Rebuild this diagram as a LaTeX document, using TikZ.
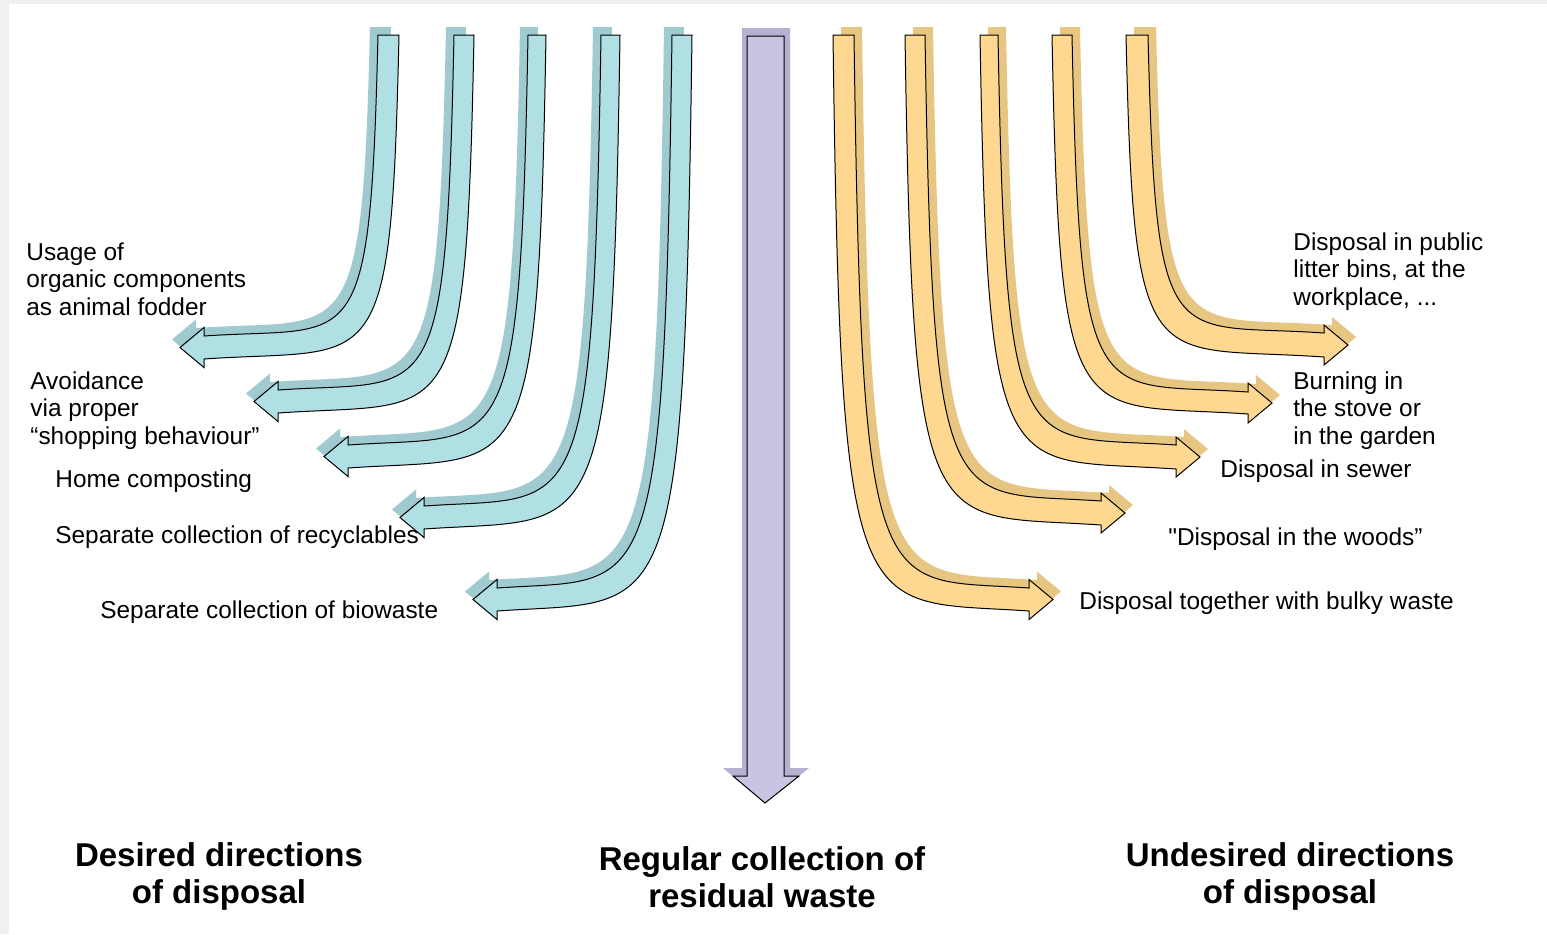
\documentclass[tikz,border=0pt]{standalone}
\usepackage{fontspec}
\setmainfont{Liberation Sans}[Ligatures=TeXOff]
\usepackage{tikz}

\definecolor{pagegray}{RGB}{240,240,240}
\definecolor{bluebody}{RGB}{176,223,228}
\definecolor{blueshade}{RGB}{158,202,208}
\definecolor{yellowbody}{RGB}{254,216,144}
\definecolor{yellowshade}{RGB}{231,198,130}
\definecolor{violetbody}{RGB}{200,196,226}
\definecolor{violetshade}{RGB}{182,177,210}

\begin{document}
\begin{tikzpicture}[x=0.5pt, y=-0.5pt,
  bluearrow/.style={fill=bluebody, draw=black, line width=0.5pt,
    preaction={fill=blueshade, draw=none, transform canvas={shift={(-4pt,4pt)}}}},
  yellowarrow/.style={fill=yellowbody, draw=black, line width=0.5pt,
    preaction={fill=yellowshade, draw=none, transform canvas={shift={(4pt,4pt)}}}},
  sidetext/.style={font=\fontsize{12.2}{13.75}\selectfont, align=left, anchor=north west, inner sep=0pt},
  headtext/.style={font=\bfseries\fontsize{16.5}{18.5}\selectfont, align=center, anchor=north, inner sep=0pt}]

% 背景
\useasboundingbox (0,0) rectangle (1547,934);
\fill[pagegray] (0,0) rectangle (1547,934);
\fill[white] (9,4) rectangle (1547,934);

% 中间的紫色箭头(带阴影)
\fill[violetshade] (742,28) -- (742,768) -- (723,768) -- (765,803) -- (809,768) -- (790,768) -- (790,28) -- cycle;
\draw[fill=violetbody, line width=0.5pt] (747,36) -- (747,776) -- (733,776) -- (765,803) -- (799,776) -- (784,776) -- (784,36) -- cycle;

% 左侧蓝色箭头,向左弯
\draw[bluearrow] (378,35) .. controls (370,366) and (356,325.4) .. (204,336) -- (204,327.5) -- (180,347.5) -- (204,367.5) -- (204,359) .. controls (377,346.9) and (391,389) .. (399,35) -- cycle;
\draw[bluearrow] (454,35) .. controls (446,420) and (432,379.2) .. (278,390) -- (278,381.5) -- (254,401.5) -- (278,421.5) -- (278,413) .. controls (452,400.8) and (466,443) .. (474,35) -- cycle;
\draw[bluearrow] (528,35) .. controls (520,475) and (506,433.9) .. (348,445) -- (348,436.5) -- (324,456.5) -- (348,476.5) -- (348,468) .. controls (524,455.7) and (538,498) .. (546,35) -- cycle;
\draw[bluearrow] (601,35) .. controls (593,536) and (579,495.2) .. (424,506) -- (424,497.5) -- (400,517.5) -- (424,537.5) -- (424,529) .. controls (598,516.8) and (612,559) .. (620,35) -- cycle;
\draw[bluearrow] (672,35) .. controls (664,618) and (650,577.3) .. (497,588) -- (497,579.5) -- (473,599.5) -- (497,619.5) -- (497,611) .. controls (670,598.9) and (684,641) .. (692,35) -- cycle;

% 右侧黄色箭头,向右弯
\draw[yellowarrow] (854,35) .. controls (862,618) and (876,577.3) .. (1029,588) -- (1029,579.5) -- (1053,599.5) -- (1029,619.5) -- (1029,611) .. controls (855,598.8) and (841,641) .. (833,35) -- cycle;
\draw[yellowarrow] (925,35) .. controls (933,531) and (947,490.2) .. (1101,501) -- (1101,493) -- (1125,513) -- (1101,533) -- (1101,525) .. controls (927,512.8) and (913,555) .. (905,35) -- cycle;
\draw[yellowarrow] (998,35) .. controls (1006,475) and (1020,434.1) .. (1176,445) -- (1176,437) -- (1200,457) -- (1176,477) -- (1176,469) .. controls (1002,456.8) and (988,499) .. (980,35) -- cycle;
\draw[yellowarrow] (1072,35) .. controls (1080,422) and (1094,381.2) .. (1248,392) -- (1248,383) -- (1272,403) -- (1248,423) -- (1248,414) .. controls (1074,401.8) and (1060,444) .. (1052,35) -- cycle;
\draw[yellowarrow] (1148,35) .. controls (1156,363) and (1170,322.2) .. (1324,333) -- (1324,325) -- (1348,345) -- (1324,365) -- (1324,357) .. controls (1148,344.7) and (1134,387) .. (1126,35) -- cycle;

% 左侧文字
\node[sidetext] (fodder) at (26,242) {Usage of\\organic components\\as animal fodder};
\node[sidetext] (avoid) at (30,371) {Avoidance\\via proper\\“shopping behaviour”};
\node[sidetext] (compost) at (55,469) {Home composting};
\node[sidetext] (recycle) at (55,525) {Separate collection of recyclables};
\node[sidetext] (biowaste) at (100,600) {Separate collection of biowaste};

% 右侧文字
\node[sidetext] (litter) at (1293,232) {Disposal in public\\litter bins, at the\\workplace, ...};
\node[sidetext] (burn) at (1293,371) {Burning in\\the stove or\\in the garden};
\node[sidetext] (sewer) at (1220,459) {Disposal in sewer};
\node[sidetext] (woods) at (1168,527) {"Disposal in the woods”};
\node[sidetext] (bulky) at (1079,591) {Disposal together with bulky waste};

% 底部标题
\node[headtext] (desired) at (219,842) {Desired directions\\of disposal};
\node[headtext] (regular) at (762,846) {Regular collection of\\residual waste};
\node[headtext] (undesired) at (1290,842) {Undesired directions\\of disposal};

\end{tikzpicture}
\end{document}
